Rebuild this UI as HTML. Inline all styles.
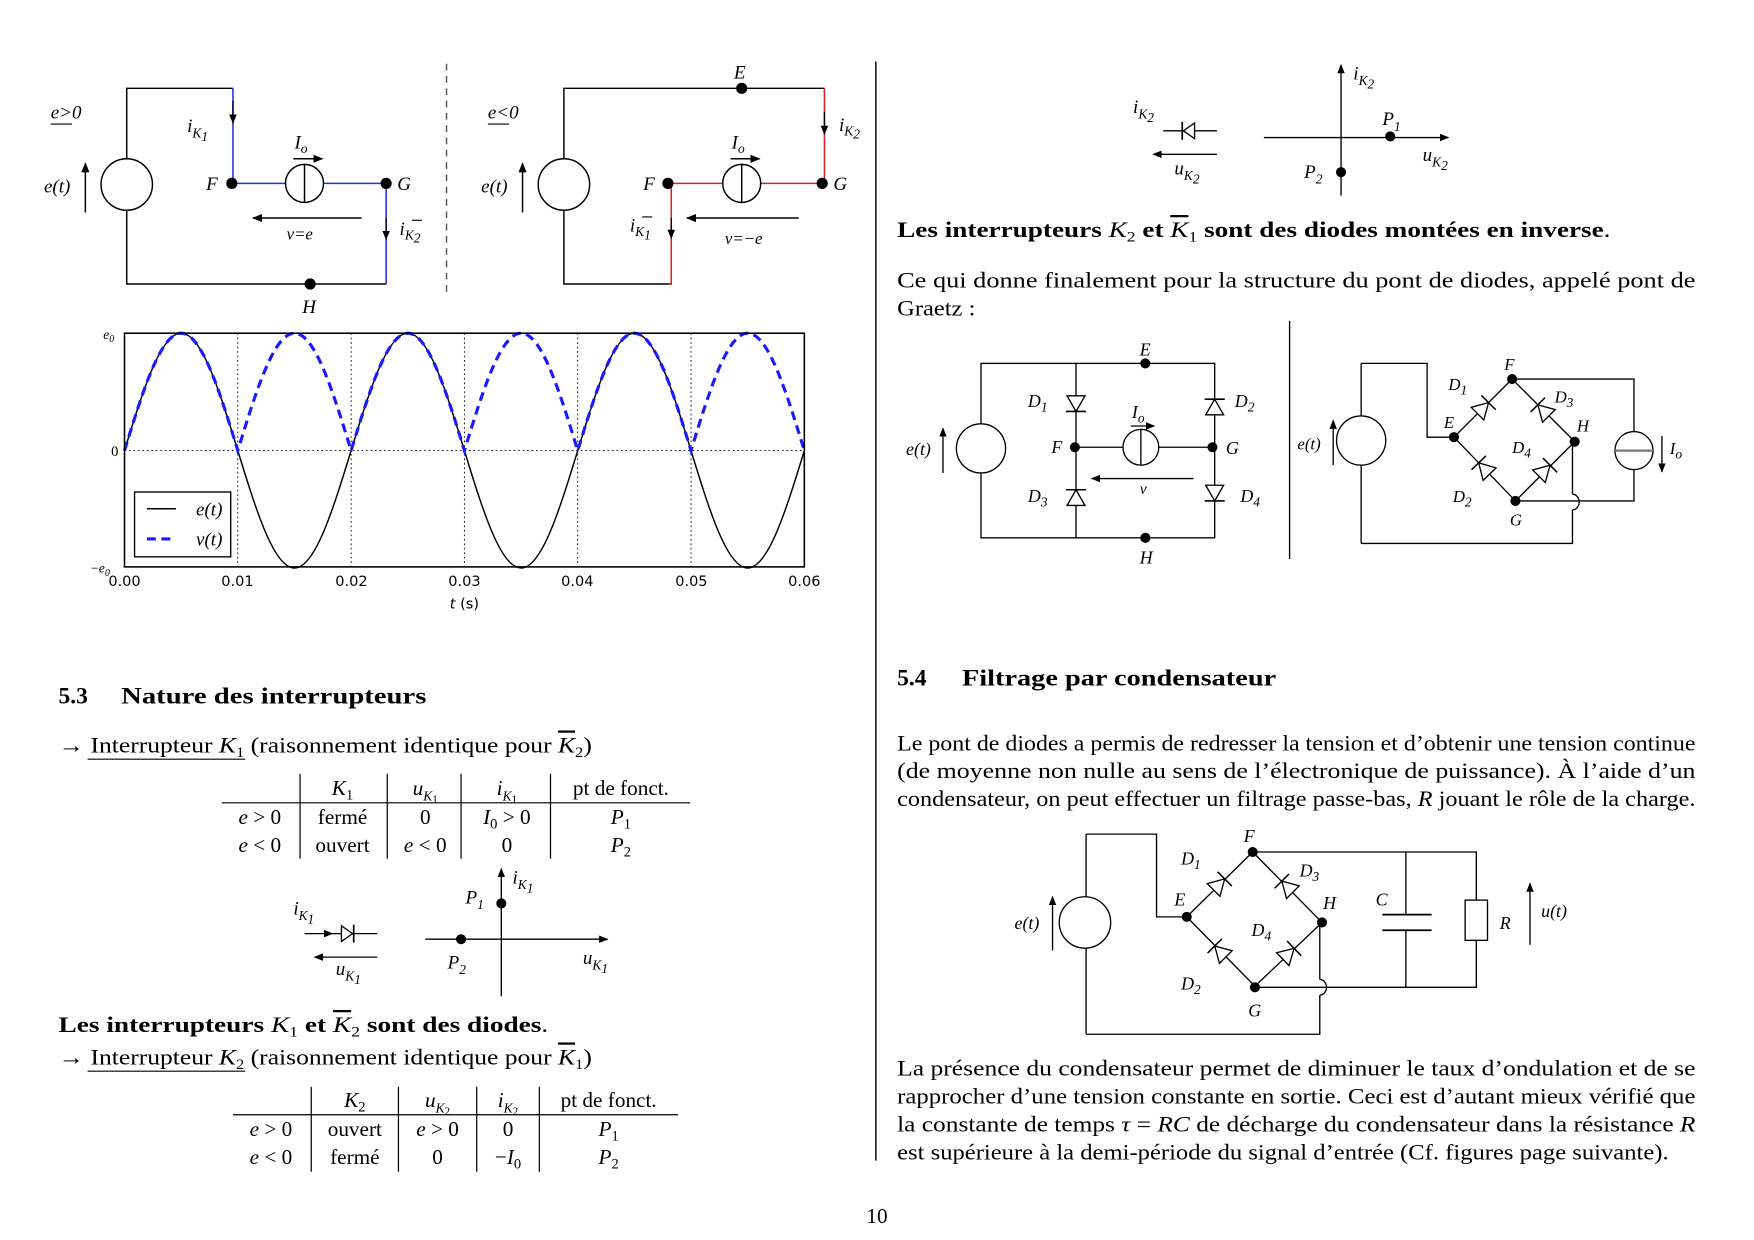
<!DOCTYPE html>
<html><head><meta charset="utf-8"><style>
html,body{margin:0;padding:0;background:#fff;}
svg{display:block;}
text{font-family:"Liberation Serif",serif;fill:#000;}
.i{font-style:italic;}
.b{font-weight:bold;}
.ol{text-decoration:overline;}
.s{font-size:12px;}
</style></head><body>
<svg width="1754" height="1240" viewBox="0 0 1568 1109" xmlns="http://www.w3.org/2000/svg">
<defs>
<marker id="ar" viewBox="0 0 10 10" refX="9" refY="5" markerWidth="7" markerHeight="7" orient="auto"><path d="M0,1 L10,5 L0,9 z" fill="#000"/></marker>
<symbol id="dio" viewBox="-10 -10 20 20" width="20" height="20" overflow="visible"><polygon points="-7,-8 -7,8 7,0" fill="#fff" stroke="#000" stroke-width="1.2"/><line x1="7" y1="-9" x2="7" y2="9" stroke="#000" stroke-width="1.4"/></symbol>
</defs>
<rect width="1568" height="1109" fill="#fff"/>

<!-- ===== Circuit e>0 ===== -->
<g stroke="#000" stroke-width="1.3" fill="none">
<polyline points="208,79 113,79 113,254 345,254"/>
<circle cx="113" cy="165" r="23" fill="#fff"/>
<line x1="76" y1="190" x2="76" y2="146" marker-end="url(#ar)"/>
<line x1="323" y1="195" x2="226" y2="195" marker-end="url(#ar)"/>
<line x1="262" y1="142" x2="288" y2="142" marker-end="url(#ar)"/>
</g>
<g stroke="#2233ee" stroke-width="1.4" fill="none">
<line x1="208" y1="79" x2="208" y2="164"/>
<line x1="207" y1="164" x2="345" y2="164"/>
<line x1="345" y1="164" x2="345" y2="254"/>
</g>
<line x1="208" y1="90" x2="208" y2="110" stroke="#000" stroke-width="1.2" marker-end="url(#ar)"/>
<line x1="345" y1="195" x2="345" y2="214" stroke="#000" stroke-width="1.2" marker-end="url(#ar)"/>
<circle cx="272" cy="164" r="17" fill="#fff" stroke="#000" stroke-width="1.3"/>
<line x1="272" y1="147" x2="272" y2="181" stroke="#000" stroke-width="1.3"/>
<circle cx="207" cy="164" r="5"/><circle cx="345" cy="164" r="5"/><circle cx="277" cy="254" r="5"/>
<text x="45" y="106" class="i" font-size="17">e&gt;0</text><line x1="45" y1="111" x2="64" y2="111" stroke="#000"/>
<text x="39" y="172" class="i" font-size="17">e(t)</text>
<text x="167" y="118" class="i" font-size="17">i<tspan class="s" dy="5">K</tspan><tspan class="s" dy="3">1</tspan></text>
<text x="263" y="133" class="i" font-size="17">I<tspan class="s" dy="4">o</tspan></text>
<text x="184" y="170" class="i" font-size="17">F</text>
<text x="355" y="170" class="i" font-size="17">G</text>
<text x="256" y="214" class="i" font-size="15">v=e</text>
<text x="357" y="210" class="i" font-size="17">i<tspan class="s" dy="4">K</tspan><tspan class="s" dy="3">2</tspan></text><line x1="368" y1="197" x2="377" y2="197" stroke="#000"/>
<text x="270" y="280" class="i" font-size="17">H</text>

<line x1="399" y1="57" x2="399" y2="265" stroke="#555" stroke-width="1.3" stroke-dasharray="6,5"/>

<!-- ===== Circuit e<0 ===== -->
<g stroke="#000" stroke-width="1.3" fill="none">
<polyline points="737,79 504,79 504,254 600,254"/>
<circle cx="504" cy="165" r="23" fill="#fff"/>
<line x1="467" y1="190" x2="467" y2="146" marker-end="url(#ar)"/>
<line x1="714" y1="195" x2="614" y2="195" marker-end="url(#ar)"/>
<line x1="653" y1="142" x2="679" y2="142" marker-end="url(#ar)"/>
</g>
<g stroke="#e02020" stroke-width="1.4" fill="none">
<line x1="737" y1="79" x2="737" y2="164"/>
<line x1="597" y1="164" x2="735" y2="164"/>
<polyline points="600,164 600,254 598,254"/>
</g>
<line x1="737" y1="100" x2="737" y2="120" stroke="#000" stroke-width="1.2" marker-end="url(#ar)"/>
<line x1="600" y1="195" x2="600" y2="213" stroke="#000" stroke-width="1.2" marker-end="url(#ar)"/>
<circle cx="663" cy="164" r="17" fill="#fff" stroke="#000" stroke-width="1.3"/>
<line x1="663" y1="147" x2="663" y2="181" stroke="#000" stroke-width="1.3"/>
<circle cx="597" cy="164" r="5"/><circle cx="735" cy="164" r="5"/><circle cx="663" cy="79" r="5"/>
<text x="436" y="106" class="i" font-size="17">e&lt;0</text><line x1="436" y1="111" x2="455" y2="111" stroke="#000"/>
<text x="430" y="172" class="i" font-size="17">e(t)</text>
<text x="656" y="70" class="i" font-size="17">E</text>
<text x="654" y="133" class="i" font-size="17">I<tspan class="s" dy="4">o</tspan></text>
<text x="575" y="170" class="i" font-size="17">F</text>
<text x="745" y="170" class="i" font-size="17">G</text>
<text x="750" y="117" class="i" font-size="17">i<tspan class="s" dy="4">K</tspan><tspan class="s" dy="3">2</tspan></text>
<text x="563" y="207" class="i" font-size="17">i<tspan class="s" dy="4">K</tspan><tspan class="s" dy="3">1</tspan></text><line x1="574" y1="194" x2="583" y2="194" stroke="#000"/>
<text x="648" y="218" class="i" font-size="15">v=−e</text>

<!-- ===== Plot ===== -->
<g stroke="#000" stroke-width="0.8" stroke-dasharray="1.5,2.5" fill="none">
<line x1="111" y1="403" x2="719" y2="403"/>
<line x1="212.3" y1="298" x2="212.3" y2="507"/>
<line x1="313.7" y1="298" x2="313.7" y2="507"/>
<line x1="415" y1="298" x2="415" y2="507"/>
<line x1="516.3" y1="298" x2="516.3" y2="507"/>
<line x1="617.7" y1="298" x2="617.7" y2="507"/>
</g>
<path fill="none" stroke="#000" stroke-width="1.3" d="M111,403
C127.52,349.2 143.33,298 161.67,298 C180.01,298 195.82,349.2 212.33,403
C228.85,456.8 244.66,508 263,508 C281.34,508 297.15,456.8 313.67,403
C330.19,349.2 346,298 364.34,298 C382.68,298 398.49,349.2 415,403
C431.52,456.8 447.33,508 465.67,508 C484.01,508 499.82,456.8 516.33,403
C532.85,349.2 548.66,298 567,298 C585.34,298 601.15,349.2 617.67,403
C634.19,456.8 650,508 668.34,508 C686.68,508 702.49,456.8 719,403"/>
<path fill="none" stroke="#1a1aff" stroke-width="2.8" stroke-dasharray="8,5" d="M111,403
C127.52,349.2 143.33,298 161.67,298 C180.01,298 195.82,349.2 212.33,403
C228.85,349.2 244.66,298 263,298 C281.34,298 297.15,349.2 313.67,403
C330.19,349.2 346,298 364.34,298 C382.68,298 398.49,349.2 415,403
C431.52,349.2 447.33,298 465.67,298 C484.01,298 499.82,349.2 516.33,403
C532.85,349.2 548.66,298 567,298 C585.34,298 601.15,349.2 617.67,403
C634.19,349.2 650,298 668.34,298 C686.68,298 702.49,349.2 719,403"/>
<rect x="111" y="298" width="608" height="209" fill="none" stroke="#000" stroke-width="1.4"/>
<rect x="120" y="440" width="86" height="58" fill="#fff" stroke="#000" stroke-width="1.2"/>
<line x1="131" y1="455" x2="157" y2="455" stroke="#000" stroke-width="1.3"/>
<line x1="131" y1="482" x2="157" y2="482" stroke="#1a1aff" stroke-width="2.8" stroke-dasharray="8,5"/>
<text x="175" y="461" class="i" font-size="17">e(t)</text>
<text x="175" y="488" class="i" font-size="17">v(t)</text>
<text x="92" y="303" class="i" font-size="12">e<tspan font-size="9" dy="3">0</tspan></text>
<text x="99" y="408" font-size="13">0</text>
<text x="80" y="512" class="i" font-size="12">−e<tspan font-size="9" dy="3">0</tspan></text>
<g font-size="13" text-anchor="middle">
<text x="111" y="524" style="font-family:'DejaVu Sans',sans-serif">0.00</text>
<text x="212" y="524" style="font-family:'DejaVu Sans',sans-serif">0.01</text>
<text x="314" y="524" style="font-family:'DejaVu Sans',sans-serif">0.02</text>
<text x="415" y="524" style="font-family:'DejaVu Sans',sans-serif">0.03</text>
<text x="516" y="524" style="font-family:'DejaVu Sans',sans-serif">0.04</text>
<text x="618" y="524" style="font-family:'DejaVu Sans',sans-serif">0.05</text>
<text x="719" y="524" style="font-family:'DejaVu Sans',sans-serif">0.06</text>
<text x="415" y="544" style="font-family:'DejaVu Sans',sans-serif"><tspan font-style="italic">t</tspan> (s)</text>
</g>

<!-- ===== Section 5.3 ===== -->
<text x="52" y="629" class="b" font-size="21">5.3</text>
<text x="108" y="629" class="b" font-size="21" textLength="273" lengthAdjust="spacingAndGlyphs">Nature des interrupteurs</text>
<text x="52" y="673" font-size="20" textLength="477" lengthAdjust="spacingAndGlyphs">→ <tspan>Interrupteur </tspan><tspan class="i">K</tspan><tspan font-size="13" dy="4">1</tspan><tspan dy="-4"> (raisonnement identique pour </tspan><tspan class="i ol">K</tspan><tspan font-size="13" dy="4">2</tspan><tspan dy="-4">)</tspan></text>
<line x1="78" y1="679" x2="219" y2="679" stroke="#000" stroke-width="1"/>

<g font-size="19" text-anchor="middle">
<text x="306" y="711" class="i">K<tspan font-size="13" dy="4" font-style="normal">1</tspan></text>
<text x="380" y="711" class="i">u<tspan font-size="12" dy="5">K</tspan><tspan font-size="10" dy="2" font-style="normal">1</tspan></text>
<text x="453" y="711" class="i">i<tspan font-size="12" dy="5">K</tspan><tspan font-size="10" dy="2" font-style="normal">1</tspan></text>
<text x="555" y="711">pt de fonct.</text>
<text x="232" y="737"><tspan class="i">e</tspan> &gt; 0</text>
<text x="306" y="737">fermé</text>
<text x="380" y="737">0</text>
<text x="453" y="737"><tspan class="i">I</tspan><tspan font-size="13" dy="4">0</tspan><tspan dy="-4"> &gt; 0</tspan></text>
<text x="555" y="737" class="i">P<tspan font-size="13" dy="4" font-style="normal">1</tspan></text>
<text x="232" y="762"><tspan class="i">e</tspan> &lt; 0</text>
<text x="306" y="762">ouvert</text>
<text x="380" y="762"><tspan class="i">e</tspan> &lt; 0</text>
<text x="453" y="762">0</text>
<text x="555" y="762" class="i">P<tspan font-size="13" dy="4" font-style="normal">2</tspan></text>
</g>
<g stroke="#000" stroke-width="1.1">
<line x1="198" y1="718" x2="617" y2="718"/>
<line x1="268" y1="692" x2="268" y2="768"/><line x1="346" y1="692" x2="346" y2="768"/>
<line x1="412" y1="692" x2="412" y2="768"/><line x1="492" y1="692" x2="492" y2="768"/>
</g>

<!-- diode K1 & characteristic -->
<g stroke="#000" stroke-width="1.2" fill="none">
<line x1="272" y1="835" x2="297" y2="835" marker-end="url(#ar)"/>
<line x1="297" y1="835" x2="337" y2="835"/>
<polygon points="305,828 305,842 315,835" fill="#fff"/>
<line x1="316" y1="827" x2="316" y2="843" stroke-width="1.5"/>
<line x1="337" y1="856" x2="281" y2="856" marker-end="url(#ar)"/>
<line x1="380" y1="840" x2="543" y2="840" marker-end="url(#ar)"/>
<line x1="448" y1="891" x2="448" y2="777" marker-end="url(#ar)"/>
</g>
<circle cx="448" cy="808" r="4.5"/><circle cx="412" cy="840" r="4.5"/>
<text x="262" y="818" class="i" font-size="17">i<tspan class="s" dy="5">K</tspan><tspan class="s" dy="3">1</tspan></text>
<text x="300" y="872" class="i" font-size="17">u<tspan class="s" dy="5">K</tspan><tspan class="s" dy="3">1</tspan></text>
<text x="458" y="790" class="i" font-size="17">i<tspan class="s" dy="5">K</tspan><tspan class="s" dy="3">1</tspan></text>
<text x="416" y="808" class="i" font-size="17">P<tspan class="s" dy="5">1</tspan></text>
<text x="400" y="866" class="i" font-size="17">P<tspan class="s" dy="5">2</tspan></text>
<text x="521" y="862" class="i" font-size="17">u<tspan class="s" dy="5">K</tspan><tspan class="s" dy="3">1</tspan></text>

<text x="52" y="923" font-size="20" textLength="438" lengthAdjust="spacingAndGlyphs"><tspan class="b">Les interrupteurs </tspan><tspan class="i">K</tspan><tspan font-size="13" dy="4">1</tspan><tspan dy="-4" class="b"> et </tspan><tspan class="i ol">K</tspan><tspan font-size="13" dy="4">2</tspan><tspan dy="-4" class="b"> sont des diodes</tspan>.</text>
<text x="52" y="952" font-size="20" textLength="477" lengthAdjust="spacingAndGlyphs">→ <tspan>Interrupteur </tspan><tspan class="i">K</tspan><tspan font-size="13" dy="4">2</tspan><tspan dy="-4"> (raisonnement identique pour </tspan><tspan class="i ol">K</tspan><tspan font-size="13" dy="4">1</tspan><tspan dy="-4">)</tspan></text>
<line x1="78" y1="958" x2="219" y2="958" stroke="#000" stroke-width="1"/>

<g font-size="19" text-anchor="middle">
<text x="317" y="990" class="i">K<tspan font-size="13" dy="4" font-style="normal">2</tspan></text>
<text x="391" y="990" class="i">u<tspan font-size="12" dy="5">K</tspan><tspan font-size="10" dy="2" font-style="normal">2</tspan></text>
<text x="454" y="990" class="i">i<tspan font-size="12" dy="5">K</tspan><tspan font-size="10" dy="2" font-style="normal">2</tspan></text>
<text x="544" y="990">pt de fonct.</text>
<text x="242" y="1016"><tspan class="i">e</tspan> &gt; 0</text>
<text x="317" y="1016">ouvert</text>
<text x="391" y="1016"><tspan class="i">e</tspan> &gt; 0</text>
<text x="454" y="1016">0</text>
<text x="544" y="1016" class="i">P<tspan font-size="13" dy="4" font-style="normal">1</tspan></text>
<text x="242" y="1041"><tspan class="i">e</tspan> &lt; 0</text>
<text x="317" y="1041">fermé</text>
<text x="391" y="1041">0</text>
<text x="454" y="1041">−<tspan class="i">I</tspan><tspan font-size="13" dy="4">0</tspan></text>
<text x="544" y="1041" class="i">P<tspan font-size="13" dy="4" font-style="normal">2</tspan></text>
</g>
<g stroke="#000" stroke-width="1.1">
<line x1="208" y1="997" x2="606" y2="997"/>
<line x1="278" y1="972" x2="278" y2="1048"/><line x1="356" y1="972" x2="356" y2="1048"/>
<line x1="426" y1="972" x2="426" y2="1048"/><line x1="482" y1="972" x2="482" y2="1048"/>
</g>

<text x="784" y="1094" font-size="19" text-anchor="middle">10</text>

<!-- column separator -->
<line x1="783" y1="55" x2="783" y2="1038" stroke="#000" stroke-width="1.3"/>

<!-- ===== Right top: K2 ===== -->
<g stroke="#000" stroke-width="1.2" fill="none">
<line x1="1040" y1="117" x2="1088" y2="117"/>
<polygon points="1068,110 1068,124 1058,117" fill="#fff"/>
<line x1="1057" y1="109" x2="1057" y2="125" stroke-width="1.5"/>
<line x1="1088" y1="138" x2="1031" y2="138" marker-end="url(#ar)"/>
<line x1="1130" y1="123" x2="1295" y2="123" marker-end="url(#ar)"/>
<line x1="1199" y1="175" x2="1199" y2="58" marker-end="url(#ar)"/>
</g>
<circle cx="1243" cy="122" r="4.5"/><circle cx="1199" cy="154" r="4.5"/>
<text x="1013" y="101" class="i" font-size="17">i<tspan class="s" dy="5">K</tspan><tspan class="s" dy="3">2</tspan></text>
<text x="1050" y="156" class="i" font-size="17">u<tspan class="s" dy="5">K</tspan><tspan class="s" dy="3">2</tspan></text>
<text x="1210" y="71" class="i" font-size="17">i<tspan class="s" dy="5">K</tspan><tspan class="s" dy="3">2</tspan></text>
<text x="1236" y="112" class="i" font-size="17">P<tspan class="s" dy="5">1</tspan></text>
<text x="1272" y="144" class="i" font-size="17">u<tspan class="s" dy="5">K</tspan><tspan class="s" dy="3">2</tspan></text>
<text x="1166" y="159" class="i" font-size="17">P<tspan class="s" dy="5">2</tspan></text>

<text x="802" y="212" font-size="20" textLength="638" lengthAdjust="spacingAndGlyphs"><tspan class="b">Les interrupteurs </tspan><tspan class="i">K</tspan><tspan font-size="13" dy="4">2</tspan><tspan dy="-4" class="b"> et </tspan><tspan class="i ol">K</tspan><tspan font-size="13" dy="4">1</tspan><tspan dy="-4" class="b"> sont des diodes montées en inverse</tspan>.</text>
<text x="802" y="257" font-size="20" textLength="714" lengthAdjust="spacingAndGlyphs">Ce qui donne finalement pour la structure du pont de diodes, appelé pont de</text>
<text x="802" y="282" font-size="20" textLength="70" lengthAdjust="spacingAndGlyphs">Graetz :</text>

<!-- ===== Graetz left ===== -->
<g stroke="#000" stroke-width="1.2" fill="none">
<rect x="877" y="325" width="209" height="156"/>
<line x1="962" y1="325" x2="962" y2="481"/>
<line x1="961" y1="400" x2="1084" y2="400"/>
<circle cx="877" cy="401" r="22" fill="#fff"/>
<line x1="843" y1="423" x2="843" y2="383" marker-end="url(#ar)"/>
<line x1="1067" y1="428" x2="976" y2="428" marker-end="url(#ar)"/>
<line x1="1011" y1="381" x2="1032" y2="381" marker-end="url(#ar)"/>
<circle cx="1020" cy="400" r="16" fill="#fff"/>
<line x1="1020" y1="384" x2="1020" y2="416"/>
</g>
<use href="#dio" x="952" y="351" transform="rotate(90 962 361)"/>
<use href="#dio" x="952" y="435" transform="rotate(-90 962 445)"/>
<use href="#dio" x="1076" y="354" transform="rotate(-90 1086 364)"/>
<use href="#dio" x="1076" y="431" transform="rotate(90 1086 441)"/>
<circle cx="961" cy="400" r="4.5"/><circle cx="1084" cy="400" r="4.5"/><circle cx="1024" cy="325" r="4.5"/><circle cx="1024" cy="481" r="4.5"/>
<text x="1019" y="318" class="i" font-size="16">E</text>
<text x="1019" y="504" class="i" font-size="16">H</text>
<text x="940" y="405" class="i" font-size="16">F</text>
<text x="1096" y="406" class="i" font-size="16">G</text>
<text x="810" y="407" class="i" font-size="16">e(t)</text>
<text x="1012" y="374" class="i" font-size="16">I<tspan class="s" dy="4">o</tspan></text>
<text x="1019" y="442" class="i" font-size="14">v</text>
<text x="919" y="364" class="i" font-size="16">D<tspan class="s" dy="4">1</tspan></text>
<text x="1104" y="364" class="i" font-size="16">D<tspan class="s" dy="4">2</tspan></text>
<text x="919" y="449" class="i" font-size="16">D<tspan class="s" dy="4">3</tspan></text>
<text x="1109" y="449" class="i" font-size="16">D<tspan class="s" dy="4">4</tspan></text>

<line x1="1153" y1="287" x2="1153" y2="500" stroke="#000" stroke-width="1.2"/>

<!-- ===== Graetz right ===== -->
<g stroke="#000" stroke-width="1.2" fill="none">
<polyline points="1217,325 1276,325 1276,391 1300,391"/>
<line x1="1217" y1="325" x2="1217" y2="486"/>
<polyline points="1217,486 1406,486 1406,456"/>
<line x1="1406" y1="395" x2="1406" y2="442"/>
<path d="M1406,442 A6,7 0 0 1 1406,456"/>
<polygon points="1300,391 1352,339 1408,395 1355,448"/>
<polyline points="1352,339 1461,339 1461,448 1355,448"/>
<circle cx="1217" cy="394" r="22" fill="#fff"/>
<line x1="1192" y1="416" x2="1192" y2="376" marker-end="url(#ar)"/>
<circle cx="1461" cy="403" r="17" fill="#fff"/>
<line x1="1486" y1="390" x2="1486" y2="422" marker-end="url(#ar)"/>
</g>
<line x1="1444" y1="403" x2="1478" y2="403" stroke="#777" stroke-width="2"/>
<use href="#dio" x="1316" y="355" transform="rotate(-45 1326 365)"/>
<use href="#dio" x="1370" y="357" transform="rotate(-135 1380 367)"/>
<use href="#dio" x="1317" y="409" transform="rotate(-134 1327 419)"/>
<use href="#dio" x="1371" y="411" transform="rotate(-45 1381 421)"/>
<circle cx="1300" cy="391" r="4.5"/><circle cx="1352" cy="339" r="4.5"/><circle cx="1408" cy="395" r="4.5"/><circle cx="1355" cy="448" r="4.5"/>
<text x="1345" y="331" class="i" font-size="15">F</text>
<text x="1291" y="383" class="i" font-size="15">E</text>
<text x="1410" y="386" class="i" font-size="15">H</text>
<text x="1350" y="470" class="i" font-size="15">G</text>
<text x="1160" y="402" class="i" font-size="15">e(t)</text>
<text x="1493" y="406" class="i" font-size="15">I<tspan class="s" dy="4">o</tspan></text>
<text x="1295" y="349" class="i" font-size="15">D<tspan class="s" dy="4">1</tspan></text>
<text x="1390" y="360" class="i" font-size="15">D<tspan class="s" dy="4">3</tspan></text>
<text x="1352" y="405" class="i" font-size="15">D<tspan class="s" dy="4">4</tspan></text>
<text x="1299" y="449" class="i" font-size="15">D<tspan class="s" dy="4">2</tspan></text>

<!-- ===== Section 5.4 ===== -->
<text x="802" y="613" class="b" font-size="21">5.4</text>
<text x="860" y="613" class="b" font-size="21" textLength="281" lengthAdjust="spacingAndGlyphs">Filtrage par condensateur</text>
<text x="802" y="671" font-size="20" textLength="714" lengthAdjust="spacingAndGlyphs">Le pont de diodes a permis de redresser la tension et d’obtenir une tension continue</text>
<text x="802" y="696" font-size="20" textLength="714" lengthAdjust="spacingAndGlyphs">(de moyenne non nulle au sens de l’électronique de puissance). À l’aide d’un</text>
<text x="802" y="721" font-size="20" textLength="714" lengthAdjust="spacingAndGlyphs">condensateur, on peut effectuer un filtrage passe-bas, <tspan class="i">R</tspan> jouant le rôle de la charge.</text>

<!-- bottom circuit -->
<g stroke="#000" stroke-width="1.2" fill="none">
<polyline points="971,746 1034,746 1034,820 1061,820"/>
<line x1="971" y1="746" x2="971" y2="925"/>
<polyline points="971,925 1180,925 1180,890"/>
<line x1="1180" y1="825" x2="1180" y2="876"/>
<path d="M1180,876 A6,7 0 0 1 1180,890"/>
<polygon points="1061,820 1120,762 1182,825 1122,882"/>
<polyline points="1120,762 1320,762 1320,805"/>
<polyline points="1122,883 1320,883 1320,841"/>
<rect x="1310" y="805" width="20" height="36" fill="#fff"/>
<line x1="1257" y1="762" x2="1257" y2="818"/>
<line x1="1257" y1="832" x2="1257" y2="883"/>
<line x1="1236" y1="818" x2="1280" y2="818" stroke-width="1.6"/>
<line x1="1236" y1="832" x2="1280" y2="832" stroke-width="1.6"/>
<circle cx="970" cy="825" r="23" fill="#fff"/>
<line x1="941" y1="850" x2="941" y2="802" marker-end="url(#ar)"/>
<line x1="1368" y1="845" x2="1368" y2="790" marker-end="url(#ar)"/>
</g>
<use href="#dio" x="1080" y="781" transform="rotate(-45 1090 791)"/>
<use href="#dio" x="1141" y="783" transform="rotate(-135 1151 793)"/>
<use href="#dio" x="1081" y="841" transform="rotate(-135 1091 851)"/>
<use href="#dio" x="1142" y="843" transform="rotate(-44 1152 853)"/>
<circle cx="1061" cy="820" r="4.5"/><circle cx="1120" cy="762" r="4.5"/><circle cx="1182" cy="825" r="4.5"/><circle cx="1122" cy="883" r="4.5"/>
<text x="1112" y="753" class="i" font-size="16">F</text>
<text x="1050" y="810" class="i" font-size="16">E</text>
<text x="1183" y="813" class="i" font-size="16">H</text>
<text x="1116" y="909" class="i" font-size="16">G</text>
<text x="1230" y="810" class="i" font-size="16">C</text>
<text x="1341" y="831" class="i" font-size="16">R</text>
<text x="1378" y="820" class="i" font-size="16">u(t)</text>
<text x="907" y="831" class="i" font-size="16">e(t)</text>
<text x="1056" y="773" class="i" font-size="16">D<tspan class="s" dy="4">1</tspan></text>
<text x="1162" y="784" class="i" font-size="16">D<tspan class="s" dy="4">3</tspan></text>
<text x="1119" y="837" class="i" font-size="16">D<tspan class="s" dy="4">4</tspan></text>
<text x="1056" y="885" class="i" font-size="16">D<tspan class="s" dy="4">2</tspan></text>

<text x="802" y="962" font-size="20" textLength="714" lengthAdjust="spacingAndGlyphs">La présence du condensateur permet de diminuer le taux d’ondulation et de se</text>
<text x="802" y="987" font-size="20" textLength="714" lengthAdjust="spacingAndGlyphs">rapprocher d’une tension constante en sortie. Ceci est d’autant mieux vérifié que</text>
<text x="802" y="1012" font-size="20" textLength="714" lengthAdjust="spacingAndGlyphs">la constante de temps <tspan class="i">τ</tspan> = <tspan class="i">RC</tspan> de décharge du condensateur dans la résistance <tspan class="i">R</tspan></text>
<text x="802" y="1037" font-size="20" textLength="690" lengthAdjust="spacingAndGlyphs">est supérieure à la demi-période du signal d’entrée (Cf. figures page suivante).</text>
</svg>
</body></html>
